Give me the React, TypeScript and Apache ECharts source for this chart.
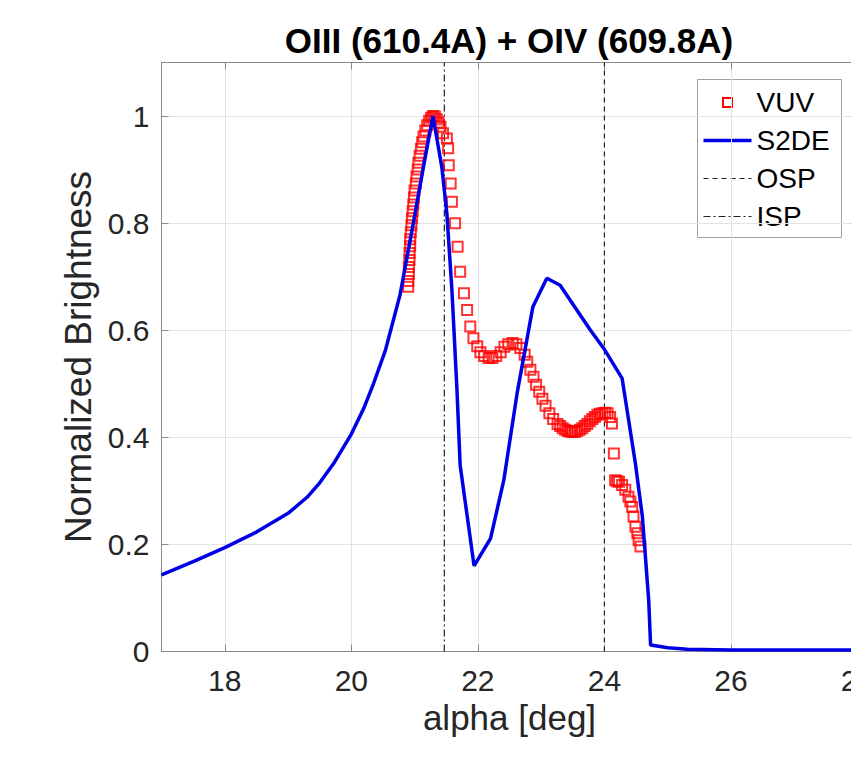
import React, { useEffect, useRef } from "react";
import * as echarts from "echarts";

const titleText = "OIII (610.4A) + OIV (609.8A)";
const xAxisName = "alpha [deg]";
const yAxisName = "Normalized Brightness";
const legendNames = ["VUV", "S2DE", "OSP", "ISP"];

const s2deX = [17.0, 17.5, 18.0, 18.5, 19.0, 19.3, 19.5, 19.72, 20.0, 20.2, 20.35, 20.54, 20.77, 20.98, 21.14, 21.29, 21.43, 21.51, 21.59, 21.67, 21.72, 21.94, 22.2, 22.41, 22.62, 22.87, 23.09, 23.3, 23.78, 23.99, 24.28, 24.49, 24.6, 24.7, 24.73, 25.0, 25.31, 26.0, 27.0, 28.0];
const s2deY = [0.143, 0.168, 0.194, 0.223, 0.258, 0.288, 0.315, 0.351, 0.406, 0.455, 0.5, 0.563, 0.666, 0.8, 0.905, 1.0, 0.905, 0.818, 0.675, 0.488, 0.348, 0.16, 0.211, 0.32, 0.482, 0.644, 0.697, 0.684, 0.6, 0.566, 0.51, 0.351, 0.252, 0.096, 0.012, 0.007, 0.004, 0.003, 0.003, 0.003];

const vuvX = [20.9, 20.9, 20.91, 20.91, 20.92, 20.92, 20.93, 20.93, 20.94, 20.95, 20.96, 20.97, 20.98, 20.99, 21.0, 21.02, 21.03, 21.05, 21.06, 21.08, 21.1, 21.12, 21.14, 21.17, 21.2, 21.23, 21.26, 21.29, 21.32, 21.35, 21.38, 21.41, 21.45, 21.51, 21.53, 21.54, 21.57, 21.59, 21.64, 21.68, 21.72, 21.78, 21.83, 21.88, 21.93, 21.99, 22.04, 22.1, 22.17, 22.23, 22.29, 22.36, 22.42, 22.48, 22.55, 22.61, 22.67, 22.74, 22.78, 22.83, 22.88, 22.92, 22.97, 23.02, 23.07, 23.13, 23.19, 23.26, 23.3, 23.34, 23.38, 23.42, 23.46, 23.49, 23.53, 23.57, 23.61, 23.65, 23.69, 23.73, 23.77, 23.81, 23.85, 23.89, 23.93, 23.97, 24.01, 24.05, 24.09, 24.12, 24.15, 24.17, 24.2, 24.23, 24.28, 24.33, 24.38, 24.41, 24.44, 24.46, 24.49, 24.52, 24.54, 24.57];
const vuvY = [0.681, 0.692, 0.705, 0.718, 0.731, 0.744, 0.757, 0.77, 0.783, 0.796, 0.809, 0.822, 0.835, 0.848, 0.861, 0.874, 0.887, 0.9, 0.913, 0.926, 0.939, 0.951, 0.962, 0.973, 0.983, 0.991, 0.997, 1.0, 0.999, 0.994, 0.988, 0.98, 0.968, 0.958, 0.94, 0.908, 0.874, 0.84, 0.8, 0.756, 0.709, 0.669, 0.638, 0.607, 0.585, 0.57, 0.559, 0.552, 0.548, 0.548, 0.552, 0.559, 0.569, 0.574, 0.576, 0.574, 0.567, 0.554, 0.541, 0.526, 0.513, 0.498, 0.485, 0.472, 0.459, 0.445, 0.434, 0.425, 0.421, 0.417, 0.414, 0.412, 0.411, 0.41, 0.41, 0.412, 0.414, 0.417, 0.421, 0.425, 0.43, 0.434, 0.438, 0.442, 0.444, 0.445, 0.446, 0.445, 0.438, 0.426, 0.37, 0.32, 0.318, 0.317, 0.311, 0.302, 0.289, 0.28, 0.27, 0.252, 0.233, 0.221, 0.208, 0.196];

const ospX = 24.0;
const ispX = 21.47;
const xMin = 17;
const xMax = 28;
const yMin = 0;
const yMax = 1.1;
const yStep = 0.2;

const FONT = "'Liberation Sans', Arial, Helvetica, sans-serif";

export default function App() {
  const ref = useRef<HTMLDivElement>(null);
  useEffect(() => {
    if (!ref.current) return;
    const chart = echarts.init(ref.current, null, { renderer: "svg" });
    const zip = (xs: number[], ys: number[]) => xs.map((x, i) => [x, ys[i]]);
    const axisCommon = {
      type: "value" as const,
      axisLine: { show: true, onZero: false, lineStyle: { color: "#8a8a8a", width: 1 } },
      axisTick: { show: true, inside: true, length: 7, lineStyle: { color: "#8a8a8a" } },
    };
    const legendX = 697;
    const legendY = 79;
    const rows = [102, 140, 178, 216];
    chart.setOption({
      animation: false,
      backgroundColor: "#ffffff",
      title: {
        text: titleText,
        left: "center",
        top: 18,
        textStyle: { fontFamily: FONT, fontSize: 35, fontWeight: "bold", color: "#000" },
      },
      grid: { left: 161.5, right: 160.5, top: 62.5, bottom: 758 - 651.5, containLabel: false },
      xAxis: [
        {
          ...axisCommon,
          min: xMin,
          max: xMax,
          splitNumber: 5,
          position: "bottom",
          name: xAxisName,
          nameLocation: "middle",
          nameGap: 46,
          nameTextStyle: { fontFamily: FONT, fontSize: 35, color: "#262626" },
          axisLabel: { showMinLabel: false, margin: 14, fontFamily: FONT, fontSize: 30, color: "#262626" },
          splitLine: { show: true, lineStyle: { color: "#e3e3e3", width: 1 } },
        },
        {
          ...axisCommon,
          min: xMin,
          max: xMax,
          splitNumber: 5,
          position: "top",
          axisLabel: { show: false },
          splitLine: { show: false },
        },
      ],
      yAxis: [
        {
          ...axisCommon,
          min: yMin,
          max: yMax,
          interval: yStep,
          position: "left",
          name: yAxisName,
          nameLocation: "middle",
          nameGap: 60,
          nameTextStyle: { fontFamily: FONT, fontSize: 37, color: "#262626" },
          axisLabel: { margin: 12, fontFamily: FONT, fontSize: 30, color: "#262626", showMaxLabel: false },
          splitLine: { show: true, lineStyle: { color: "#e3e3e3", width: 1 } },
        },
        {
          ...axisCommon,
          min: yMin,
          max: yMax,
          interval: yStep,
          position: "right",
          axisLabel: { show: false },
          splitLine: { show: false },
        },
      ],
      series: [
        {
          name: legendNames[0],
          type: "scatter",
          data: zip(vuvX, vuvY),
          symbol: "rect",
          symbolSize: 10,
          itemStyle: { color: "rgba(255,255,255,0)", borderColor: "#ff0000", borderWidth: 2 },
          z: 2,
        },
        {
          name: legendNames[1],
          type: "line",
          data: zip(s2deX, s2deY),
          showSymbol: false,
          symbol: "none",
          lineStyle: { color: "#0000e6", width: 3.5 },
          z: 3,
        },
        {
          name: legendNames[2],
          type: "line",
          data: [[ospX, yMin], [ospX, yMax]],
          symbol: "none",
          lineStyle: { color: "#222", width: 1.2, type: [5, 4] },
          z: 1,
        },
        {
          name: legendNames[3],
          type: "line",
          data: [[ispX, yMin], [ispX, yMax]],
          symbol: "none",
          lineStyle: { color: "#222", width: 1.2, type: [7, 3, 2, 3] },
          z: 1,
        },
      ],
      graphic: [
        {
          type: "group",
          left: legendX,
          top: legendY,
          z: 100,
          children: [
            { type: "rect", shape: { x: 0, y: 0, width: 144, height: 158 }, style: { fill: "#fff", stroke: "#a0a0a0", lineWidth: 1 } },
            { type: "rect", shape: { x: 25.5, y: rows[0] - legendY - 4.5, width: 9, height: 9 }, style: { fill: "none", stroke: "#ff0000", lineWidth: 2 } },
            { type: "line", shape: { x1: 6, y1: rows[1] - legendY, x2: 54, y2: rows[1] - legendY }, style: { stroke: "#0000e6", lineWidth: 3.5 } },
            { type: "line", shape: { x1: 6, y1: rows[2] - legendY, x2: 54, y2: rows[2] - legendY }, style: { stroke: "#222", lineWidth: 1.2, lineDash: [5, 4] } },
            { type: "line", shape: { x1: 6, y1: rows[3] - legendY, x2: 54, y2: rows[3] - legendY }, style: { stroke: "#222", lineWidth: 1.2, lineDash: [7, 3, 2, 3] } },
            ...legendNames.map((n, i) => ({
              type: "text",
              x: 59,
              y: rows[i] - legendY,
              style: { text: n, fill: "#000", font: `28px ${FONT}`, textVerticalAlign: "middle", verticalAlign: "middle" },
            })),
          ],
        },
      ],
    });
    return () => chart.dispose();
  }, []);
  return (
    <div style={{ position: "absolute", left: 0, top: 0, width: 851, height: 758, overflow: "hidden", background: "#fff" }}>
      <div ref={ref} style={{ width: 1018, height: 758 }} />
    </div>
  );
}
